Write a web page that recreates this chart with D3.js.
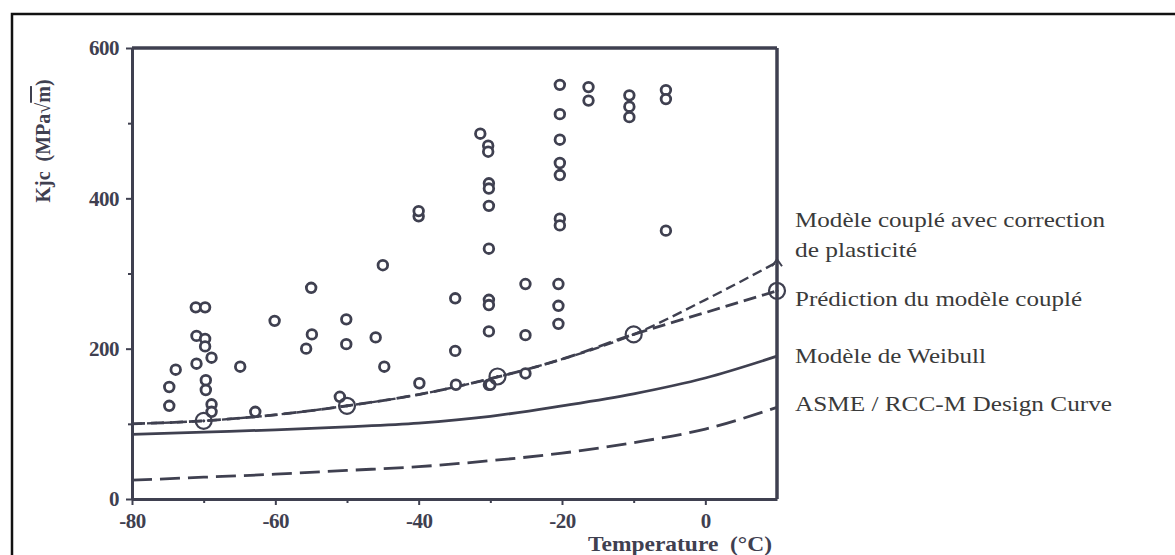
<!DOCTYPE html>
<html><head><meta charset="utf-8">
<script src="https://cdn.jsdelivr.net/npm/d3@7"></script>
<style>
html,body{margin:0;padding:0;background:#fff;}
svg{display:block;}
text{white-space:pre;}
</style></head>
<body>
<svg id="chart" width="1175" height="555"></svg>
<script>
// ---------- data ----------
const tempMajorTicks = [-80, -60, -40, -20, 0];
const tempMinorTicks = [-70, -50, -30, -10];
const kMajorTicks = [0, 200, 400, 600];
const kMinorTicks = [100, 300, 500];

// experimental Kjc points
const expT = [-74.8,-74.8,-73.9,-71.1,-69.8,-71.0,-69.8,-69.8,-68.9,-71.0,-69.7,-69.7,-68.9,-68.9,
              -64.9,-62.8,-60.1,-55.0,-54.9,-55.7,-51.0,-50.1,-50.1,-46.0,-45.0,-44.8,
              -39.9,-40.0,-40.0,-34.9,-34.9,-34.8,
              -31.4,-30.3,-30.3,-30.2,-30.2,-30.2,-30.2,-30.2,-30.2,-30.2,-30.2,-30.0,
              -25.1,-25.1,-25.1,
              -20.3,-20.3,-20.3,-20.3,-20.3,-20.3,-20.3,-20.5,-20.5,-20.5,
              -16.3,-16.3,-10.6,-10.6,-10.6,-5.5,-5.5,-5.5];
const expK = [124,149,172,255,255,217,213,203,188,180,158,145,126,116,
              176,116,237,281,219,200,136,239,206,215,311,176,
              154,376,383,267,197,152,
              486,470,462,420,413,390,333,265,258,223,152,152,
              286,218,167,
              551,512,478,447,431,373,364,286,257,233,
              548,530,537,522,508,544,532,357];

// model curves
const curveT       = [-80, -70, -60, -50, -40, -30, -20, -10, 0, 10];
const weibullK     = [86, 89, 92, 96, 101, 110, 124, 140, 161, 190];
const asmeK        = [25, 29, 33, 38, 43, 51, 61, 75, 93, 122];
const predictionK  = [100, 104, 112, 124, 139, 160, 186, 219, 248, 277];
const plasticityK  = [100, 104, 112, 124, 139, 160, 186, 219, 265, 315];

// prediction markers (large circles)
const predMarkT = [-70, -50, -29, -10, 10];
const predMarkK = [104, 124, 163, 219, 277];

const legendLabels = ["Modèle couplé avec correction", "de plasticité",
                      "Prédiction du modèle couplé", "Modèle de Weibull",
                      "ASME / RCC-M Design Curve"];

// ---------- drawing ----------
const svg = d3.select("#chart");
const ink = "#3f4050";
const x = d3.scaleLinear().domain([-80, 10]).range([132, 777]);
const y = d3.scaleLinear().domain([0, 600]).range([499, 48]);
const fmt = d => String(d);   // plain hyphen minus like the original

// outer frame
svg.append("rect").attr("x", 12).attr("y", 14).attr("width", 1300).attr("height", 700)
  .attr("fill", "none").attr("stroke", "#111").attr("stroke-width", 2.5);

const tickFont = "'Liberation Serif', 'Times New Roman', serif";

// axes
svg.append("g").attr("transform", "translate(0,499)")
  .call(d3.axisBottom(x).tickValues(tempMajorTicks).tickSize(6).tickPadding(8).tickSizeOuter(0)
        .tickFormat(fmt));
svg.append("g").attr("transform", "translate(0,499)")
  .call(d3.axisBottom(x).tickValues(tempMinorTicks).tickSize(4).tickFormat("").tickSizeOuter(0))
  .select(".domain").remove();
svg.append("g").attr("transform", "translate(132,0)")
  .call(d3.axisLeft(y).tickValues(kMajorTicks).tickSize(6).tickPadding(7).tickSizeOuter(0)
        .tickFormat(fmt));
svg.append("g").attr("transform", "translate(132,0)")
  .call(d3.axisLeft(y).tickValues(kMinorTicks).tickSize(4).tickFormat("").tickSizeOuter(0))
  .select(".domain").remove();

svg.selectAll(".domain").attr("stroke", ink).attr("stroke-width", 3);
svg.selectAll(".tick line").attr("stroke", ink).attr("stroke-width", 2);
svg.selectAll(".tick text").attr("fill", ink).attr("font-family", tickFont)
  .attr("font-weight", "bold").attr("font-size", 21).style("letter-spacing", "-0.5px");

// top and right frame of plot
svg.append("line").attr("x1", x(-80)).attr("x2", x(10)).attr("y1", y(600)).attr("y2", y(600))
  .attr("stroke", ink).attr("stroke-width", 3.5);
svg.append("line").attr("x1", x(10)).attr("x2", x(10)).attr("y1", y(600)).attr("y2", y(0))
  .attr("stroke", ink).attr("stroke-width", 3.5);

// axis titles
svg.append("text").attr("x", 588).attr("y", 551)
  .attr("textLength", 184).attr("lengthAdjust", "spacingAndGlyphs")
  .attr("fill", ink).attr("font-family", tickFont).attr("font-weight", "bold")
  .attr("font-size", 21).text("Temperature  (°C)");

const yt = svg.append("text").attr("transform", "translate(50,141) rotate(-90)")
  .attr("text-anchor", "middle").attr("fill", ink).attr("font-family", tickFont)
  .attr("font-weight", "bold").attr("font-size", 20);
yt.append("tspan").text("Kjc  (MPa√");
yt.append("tspan").attr("text-decoration", "overline").text("m");
yt.append("tspan").text(")");

// curves
const line = d3.line().x(d => x(d[0])).y(d => y(d[1])).curve(d3.curveMonotoneX);
function drawCurve(vals, dash, width) {
  svg.append("path").datum(curveT.map((t, i) => [t, vals[i]]))
    .attr("d", line).attr("fill", "none").attr("stroke", ink)
    .attr("stroke-width", width).attr("stroke-dasharray", dash);
}
drawCurve(asmeK, "20,8", 2.8);
drawCurve(weibullK, null, 2.8);
drawCurve(predictionK, "13,6", 2.8);
drawCurve(plasticityK, "10,5", 2.4);

// experimental points
svg.append("g").selectAll("circle").data(expT.map((t, i) => [t, expK[i]])).join("circle")
  .attr("cx", d => x(d[0])).attr("cy", d => y(d[1])).attr("r", 4.8)
  .attr("fill", "#fff").attr("stroke", ink).attr("stroke-width", 2.8);

// prediction markers
const pm = svg.append("g").selectAll("g").data(predMarkT.map((t, i) => [t, predMarkK[i]])).join("g");
pm.append("circle").attr("cx", d => x(d[0])).attr("cy", d => y(d[1])).attr("r", 8)
  .attr("fill", "none").attr("stroke", ink).attr("stroke-width", 2.2);
pm.append("circle").attr("cx", d => x(d[0])).attr("cy", d => y(d[1])).attr("r", 1.6)
  .attr("fill", ink);

// end mark of plasticity curve
svg.append("path")
  .attr("d", `M${x(10)-5},${y(plasticityK[9])+4} L${x(10)},${y(plasticityK[9])-3} L${x(10)+5},${y(plasticityK[9])+4}`)
  .attr("fill", "none").attr("stroke", ink).attr("stroke-width", 2);

// legend texts
const legendY = [227, 257, 306, 363, 411];
const legendW = [310, 122, 287, 191, 317];
const legFont = "'Liberation Serif', 'Times New Roman', serif";
legendLabels.forEach((s, i) => {
  svg.append("text").attr("x", 795).attr("y", legendY[i])
    .attr("textLength", legendW[i]).attr("lengthAdjust", "spacingAndGlyphs")
    .attr("fill", "#3a3a3a").attr("font-family", legFont).attr("font-size", 21)
    .text(s);
});
</script>
</body></html>
